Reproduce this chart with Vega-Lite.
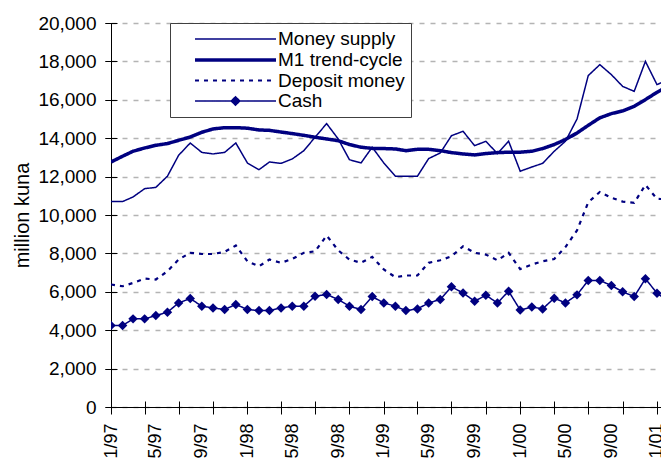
{
  "$schema": "https://vega.github.io/schema/vega-lite/v6.json",
  "autosize": {"type": "none"},
  "width": 550,
  "height": 384,
  "padding": {"left": 111, "top": 23, "right": 0, "bottom": 51},
  "background": "white",
  "config": {
    "font": "Liberation Sans",
    "view": {"stroke": null},
    "axis": {"labelFont": "Liberation Sans", "titleFont": "Liberation Sans", "labelColor": "#000000", "titleColor": "#000000", "domainColor": "#000000", "tickColor": "#000000"}
  },
  "data": {
    "values": [
      {"month": "1997-01-01", "Money supply": 10700, "M1 trend-cycle": 12760, "Deposit money": 6380, "Cash": 4240},
      {"month": "1997-02-01", "Money supply": 10700, "M1 trend-cycle": 13060, "Deposit money": 6290, "Cash": 4240},
      {"month": "1997-03-01", "Money supply": 10940, "M1 trend-cycle": 13320, "Deposit money": 6460, "Cash": 4590},
      {"month": "1997-04-01", "Money supply": 11370, "M1 trend-cycle": 13490, "Deposit money": 6690, "Cash": 4590},
      {"month": "1997-05-01", "Money supply": 11440, "M1 trend-cycle": 13630, "Deposit money": 6640, "Cash": 4760},
      {"month": "1997-06-01", "Money supply": 12020, "M1 trend-cycle": 13720, "Deposit money": 7070, "Cash": 4940},
      {"month": "1997-07-01", "Money supply": 13110, "M1 trend-cycle": 13890, "Deposit money": 7680, "Cash": 5420},
      {"month": "1997-08-01", "Money supply": 13750, "M1 trend-cycle": 14060, "Deposit money": 8030, "Cash": 5650},
      {"month": "1997-09-01", "Money supply": 13260, "M1 trend-cycle": 14310, "Deposit money": 7970, "Cash": 5250},
      {"month": "1997-10-01", "Money supply": 13180, "M1 trend-cycle": 14480, "Deposit money": 7970, "Cash": 5160},
      {"month": "1997-11-01", "Money supply": 13260, "M1 trend-cycle": 14550, "Deposit money": 8080, "Cash": 5080},
      {"month": "1997-12-01", "Money supply": 13750, "M1 trend-cycle": 14550, "Deposit money": 8410, "Cash": 5340},
      {"month": "1998-01-01", "Money supply": 12710, "M1 trend-cycle": 14520, "Deposit money": 7590, "Cash": 5080},
      {"month": "1998-02-01", "Money supply": 12360, "M1 trend-cycle": 14430, "Deposit money": 7330, "Cash": 5020},
      {"month": "1998-03-01", "Money supply": 12760, "M1 trend-cycle": 14410, "Deposit money": 7680, "Cash": 5020},
      {"month": "1998-04-01", "Money supply": 12690, "M1 trend-cycle": 14320, "Deposit money": 7510, "Cash": 5160},
      {"month": "1998-05-01", "Money supply": 12920, "M1 trend-cycle": 14240, "Deposit money": 7710, "Cash": 5250},
      {"month": "1998-06-01", "Money supply": 13350, "M1 trend-cycle": 14150, "Deposit money": 8030, "Cash": 5250},
      {"month": "1998-07-01", "Money supply": 14050, "M1 trend-cycle": 14050, "Deposit money": 8110, "Cash": 5770},
      {"month": "1998-08-01", "Money supply": 14760, "M1 trend-cycle": 13960, "Deposit money": 8930, "Cash": 5860},
      {"month": "1998-09-01", "Money supply": 13960, "M1 trend-cycle": 13870, "Deposit money": 8160, "Cash": 5600},
      {"month": "1998-10-01", "Money supply": 12880, "M1 trend-cycle": 13670, "Deposit money": 7680, "Cash": 5250},
      {"month": "1998-11-01", "Money supply": 12710, "M1 trend-cycle": 13530, "Deposit money": 7510, "Cash": 5080},
      {"month": "1998-12-01", "Money supply": 13530, "M1 trend-cycle": 13470, "Deposit money": 7820, "Cash": 5750},
      {"month": "1999-01-01", "Money supply": 12710, "M1 trend-cycle": 13460, "Deposit money": 7160, "Cash": 5420},
      {"month": "1999-02-01", "Money supply": 12020, "M1 trend-cycle": 13440, "Deposit money": 6760, "Cash": 5250},
      {"month": "1999-03-01", "Money supply": 12020, "M1 trend-cycle": 13350, "Deposit money": 6850, "Cash": 5020},
      {"month": "1999-04-01", "Money supply": 12020, "M1 trend-cycle": 13420, "Deposit money": 6850, "Cash": 5110},
      {"month": "1999-05-01", "Money supply": 12940, "M1 trend-cycle": 13420, "Deposit money": 7510, "Cash": 5420},
      {"month": "1999-06-01", "Money supply": 13230, "M1 trend-cycle": 13350, "Deposit money": 7640, "Cash": 5600},
      {"month": "1999-07-01", "Money supply": 14130, "M1 trend-cycle": 13250, "Deposit money": 7850, "Cash": 6260},
      {"month": "1999-08-01", "Money supply": 14360, "M1 trend-cycle": 13180, "Deposit money": 8370, "Cash": 5940},
      {"month": "1999-09-01", "Money supply": 13610, "M1 trend-cycle": 13130, "Deposit money": 8030, "Cash": 5510},
      {"month": "1999-10-01", "Money supply": 13840, "M1 trend-cycle": 13200, "Deposit money": 7940, "Cash": 5820},
      {"month": "1999-11-01", "Money supply": 13200, "M1 trend-cycle": 13250, "Deposit money": 7640, "Cash": 5420},
      {"month": "1999-12-01", "Money supply": 13840, "M1 trend-cycle": 13270, "Deposit money": 8030, "Cash": 6030},
      {"month": "2000-01-01", "Money supply": 12280, "M1 trend-cycle": 13270, "Deposit money": 7180, "Cash": 5050},
      {"month": "2000-02-01", "Money supply": 12500, "M1 trend-cycle": 13320, "Deposit money": 7420, "Cash": 5210},
      {"month": "2000-03-01", "Money supply": 12690, "M1 trend-cycle": 13460, "Deposit money": 7590, "Cash": 5110},
      {"month": "2000-04-01", "Money supply": 13320, "M1 trend-cycle": 13670, "Deposit money": 7710, "Cash": 5670},
      {"month": "2000-05-01", "Money supply": 13840, "M1 trend-cycle": 13930, "Deposit money": 8330, "Cash": 5420},
      {"month": "2000-06-01", "Money supply": 15000, "M1 trend-cycle": 14270, "Deposit money": 9200, "Cash": 5840},
      {"month": "2000-07-01", "Money supply": 17260, "M1 trend-cycle": 14670, "Deposit money": 10660, "Cash": 6590},
      {"month": "2000-08-01", "Money supply": 17830, "M1 trend-cycle": 15060, "Deposit money": 11200, "Cash": 6590},
      {"month": "2000-09-01", "Money supply": 17310, "M1 trend-cycle": 15280, "Deposit money": 10900, "Cash": 6330},
      {"month": "2000-10-01", "Money supply": 16700, "M1 trend-cycle": 15420, "Deposit money": 10700, "Cash": 6000},
      {"month": "2000-11-01", "Money supply": 16440, "M1 trend-cycle": 15660, "Deposit money": 10630, "Cash": 5750},
      {"month": "2000-12-01", "Money supply": 18000, "M1 trend-cycle": 16010, "Deposit money": 11570, "Cash": 6680},
      {"month": "2001-01-01", "Money supply": 16790, "M1 trend-cycle": 16390, "Deposit money": 10840, "Cash": 5930},
      {"month": "2001-02-01", "Money supply": 17060, "M1 trend-cycle": 16730, "Deposit money": 10820, "Cash": 5500}
    ]
  },
  "transform": [
    {"fold": ["Money supply", "M1 trend-cycle", "Deposit money", "Cash"], "as": ["series", "value"]}
  ],
  "encoding": {
    "x": {
      "field": "month", "type": "temporal",
      "scale": {"type": "utc", "domain": [{"year": 1997, "month": 1, "date": 1, "utc": true}, {"year": 2001, "month": 1, "date": 11, "hours": 17, "utc": true}]}
    },
    "y": {
      "field": "value", "type": "quantitative",
      "scale": {"domain": [0, 20000], "nice": false, "zero": true}
    }
  },
  "layer": [
    {
      "mark": {"type": "line", "clip": true},
      "encoding": {
        "x": {
          "field": "month", "type": "temporal",
          "axis": {
            "orient": "bottom",
            "values": [
              {"year": 1997, "month": 1, "date": 1, "utc": true}, {"year": 1997, "month": 5, "date": 1, "utc": true}, {"year": 1997, "month": 9, "date": 1, "utc": true},
              {"year": 1998, "month": 1, "date": 1, "utc": true}, {"year": 1998, "month": 5, "date": 1, "utc": true}, {"year": 1998, "month": 9, "date": 1, "utc": true},
              {"year": 1999, "month": 1, "date": 1, "utc": true}, {"year": 1999, "month": 5, "date": 1, "utc": true}, {"year": 1999, "month": 9, "date": 1, "utc": true},
              {"year": 2000, "month": 1, "date": 1, "utc": true}, {"year": 2000, "month": 5, "date": 1, "utc": true}, {"year": 2000, "month": 9, "date": 1, "utc": true},
              {"year": 2001, "month": 1, "date": 1, "utc": true}
            ],
            "format": "%-m/%y",
            "labelAngle": -90,
            "labelFontSize": 18,
            "labelPadding": 9,
            "tickSize": 7,
            "tickOpacity": 0,
            "labelOverlap": false,
            "labelFlush": false,
            "domain": true,
            "domainWidth": 1,
            "grid": false,
            "title": null
          }
        },
        "y": {
          "field": "value", "type": "quantitative",
          "axis": {
            "orient": "left",
            "values": [0, 2000, 4000, 6000, 8000, 10000, 12000, 14000, 16000, 18000, 20000],
            "labelExpr": "format(datum.value, ',')",
            "labelFontSize": 19,
            "labelPadding": 9,
            "tickSize": 6,
            "domain": true,
            "grid": true,
            "gridColor": "#b4b4b4",
            "gridDash": [5, 6],
            "gridWidth": 1.5,
            "title": "million kuna",
            "titleFontSize": 20,
            "titleFontWeight": "normal",
            "titlePadding": 5
          }
        },
        "color": {
          "field": "series", "type": "nominal",
          "scale": {"domain": ["Money supply", "M1 trend-cycle", "Deposit money", "Cash"], "range": ["#000080", "#000080", "#000080", "#000080"]},
          "legend": {
            "title": null,
            "orient": "none",
            "legendX": 59,
            "legendY": 0,
            "padding": 6,
            "strokeColor": "#404040",
            "fillColor": "#ffffff",
            "labelFont": "Liberation Sans",
            "labelFontSize": 19,
            "labelColor": "#000000",
            "labelOffset": 80,
            "symbolSize": 324,
            "rowPadding": 0,
            "symbolType": "M0.89,0L9.89,0",
            "encode": {
              "symbols": {
                "update": {
                  "shape": [
                    {"test": "datum.value === 'Cash'", "value": "M0.89,0L9.89,0M5.39,-0.47L5.86,0L5.39,0.47L4.92,0Z"},
                    {"value": "M0.89,0L9.89,0"}
                  ],
                  "fill": {"value": "#000080"}
                }
              }
            }
          }
        },
        "strokeWidth": {
          "field": "series", "type": "nominal",
          "scale": {"type": "ordinal", "domain": ["Money supply", "M1 trend-cycle", "Deposit money", "Cash"], "range": [1.5, 3.5, 2.2, 1.5]},
          "legend": null
        },
        "strokeDash": {
          "field": "series", "type": "nominal",
          "scale": {"domain": ["Money supply", "M1 trend-cycle", "Deposit money", "Cash"], "range": [[1, 0], [1, 0], [4, 5], [1, 0]]},
          "legend": null
        }
      }
    },
    {
      "transform": [{"filter": "datum.series === 'Cash'"}],
      "mark": {"type": "point", "shape": "diamond", "filled": true, "size": 90, "opacity": 1, "color": "#000080", "clip": true},
      "encoding": {
        "x": {
          "field": "month", "type": "temporal",
          "axis": {
            "orient": "bottom",
            "values": [
              {"year": 1997, "month": 1, "date": 1, "utc": true}, {"year": 1997, "month": 4, "date": 1, "utc": true}, {"year": 1997, "month": 7, "date": 1, "utc": true}, {"year": 1997, "month": 10, "date": 1, "utc": true},
              {"year": 1998, "month": 1, "date": 1, "utc": true}, {"year": 1998, "month": 4, "date": 1, "utc": true}, {"year": 1998, "month": 7, "date": 1, "utc": true}, {"year": 1998, "month": 10, "date": 1, "utc": true},
              {"year": 1999, "month": 1, "date": 1, "utc": true}, {"year": 1999, "month": 4, "date": 1, "utc": true}, {"year": 1999, "month": 7, "date": 1, "utc": true}, {"year": 1999, "month": 10, "date": 1, "utc": true},
              {"year": 2000, "month": 1, "date": 1, "utc": true}, {"year": 2000, "month": 4, "date": 1, "utc": true}, {"year": 2000, "month": 7, "date": 1, "utc": true}, {"year": 2000, "month": 10, "date": 1, "utc": true},
              {"year": 2001, "month": 1, "date": 1, "utc": true}
            ],
            "labels": false,
            "domain": false,
            "grid": false,
            "tickSize": 13,
            "offset": -6,
            "title": null
          }
        },
        "y": {
          "field": "value", "type": "quantitative",
          "axis": {
            "orient": "left",
            "values": [0, 2000, 4000, 6000, 8000, 10000, 12000, 14000, 16000, 18000, 20000],
            "labels": false,
            "domain": false,
            "grid": false,
            "tickSize": 12,
            "offset": -6,
            "title": null
          }
        }
      }
    }
  ],
  "resolve": {"axis": {"x": "independent", "y": "independent"}}
}
